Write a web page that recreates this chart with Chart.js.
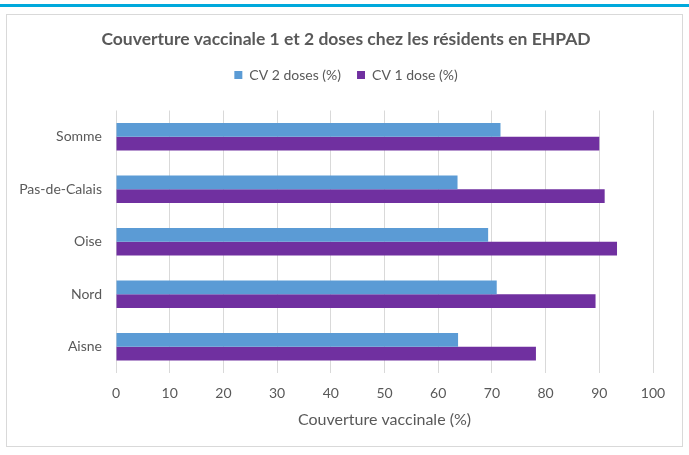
<!DOCTYPE html>
<html><head><meta charset="utf-8">
<script src="https://cdn.jsdelivr.net/npm/chart.js@4.4.1/dist/chart.umd.min.js"></script>
<style>html,body{margin:0;padding:0;background:#fff;}#wrap{position:relative;width:689px;height:455px;}</style>
</head><body><div id="wrap"><canvas id="c" width="689" height="455"></canvas></div>
<script>
const categories = ['Somme', 'Pas-de-Calais', 'Oise', 'Nord', 'Aisne'];
const seriesNames = ['CV 2 doses (%)', 'CV 1 dose (%)'];
const cv2doses = [71.6, 63.6, 69.3, 70.9, 63.7];
const cv1dose = [90.0, 91.0, 93.3, 89.3, 78.2];
const xMin = 0, xMax = 100, xStep = 10;
const chartTitle = 'Couverture vaccinale 1 et 2 doses chez les résidents en EHPAD';
const xAxisTitle = 'Couverture vaccinale (%)';

const FONT = 'Lato, "Open Sans", sans-serif';
const frame = {
  id: 'frame',
  beforeDraw(chart) {
    const ctx = chart.ctx;
    ctx.save();
    ctx.fillStyle = '#fff';
    ctx.fillRect(0, 0, chart.width, chart.height);
    ctx.fillStyle = '#00a9dc';
    ctx.fillRect(0, 4, chart.width, 3);
    ctx.strokeStyle = '#d9d9d9';
    ctx.lineWidth = 1;
    ctx.strokeRect(6.5, 14.5, 676, 432);
    ctx.restore();
  }
};
// centre title and legend on the frame, as in the reference
const centreHeader = {
  id: 'centreHeader',
  afterLayout(chart) {
    const boxes = [chart.titleBlock, chart.legend];
    boxes.forEach(b => {
      if (!b) return;
      b.left = 39;
      b.right = 653;
      b.width = b.right - b.left;
    });
    if (chart.legend && chart.legend.adjustHitBoxes) chart.legend.adjustHitBoxes();
  }
};

new Chart(document.getElementById('c'), {
  type: 'bar',
  data: {
    labels: categories,
    datasets: [
      { label: seriesNames[0], data: cv2doses, backgroundColor: '#5b9bd5', borderWidth: 0 },
      { label: seriesNames[1], data: cv1dose, backgroundColor: '#7030a0', borderWidth: 0 }
    ]
  },
  options: {
    indexAxis: 'y',
    responsive: false,
    animation: false,
    devicePixelRatio: 1,
    layout: { padding: { left: 0, right: 36, top: 0, bottom: 0 } },
    datasets: { bar: { categoryPercentage: 0.52, barPercentage: 1.0 } },
    plugins: {
      title: {
        display: true, text: chartTitle, color: '#595959',
        font: { family: FONT, size: 17.5, weight: 'bold' },
        padding: { top: 29, bottom: 2 }
      },
      legend: {
        display: true, position: 'top',
        labels: {
          color: '#595959', font: { family: FONT, size: 14 },
          boxWidth: 8, boxHeight: 8, padding: 16
        }
      },
      subtitle: {
        display: true, text: ' ', weight: 500,
        font: { family: FONT, size: 10 },
        padding: { top: 0, bottom: 6.5 }
      },
      tooltip: { enabled: false }
    },
    scales: {
      x: {
        min: xMin, max: xMax,
        ticks: { stepSize: xStep, color: '#595959', font: { family: FONT, size: 14 }, padding: 12 },
        grid: { color: '#d9d9d9', drawTicks: false },
        border: { display: false },
        title: { display: true, text: xAxisTitle, color: '#595959', font: { family: FONT, size: 16 }, padding: { top: 0, bottom: 26 } },
        afterFit(s) { s.height = 82; }
      },
      y: {
        ticks: { color: '#595959', font: { family: FONT, size: 14 }, padding: 14 },
        grid: { display: false, drawTicks: false },
        border: { display: false },
        afterFit(s) { s.width = 116; }
      }
    }
  },
  plugins: [frame, centreHeader]
});
</script></body></html>
